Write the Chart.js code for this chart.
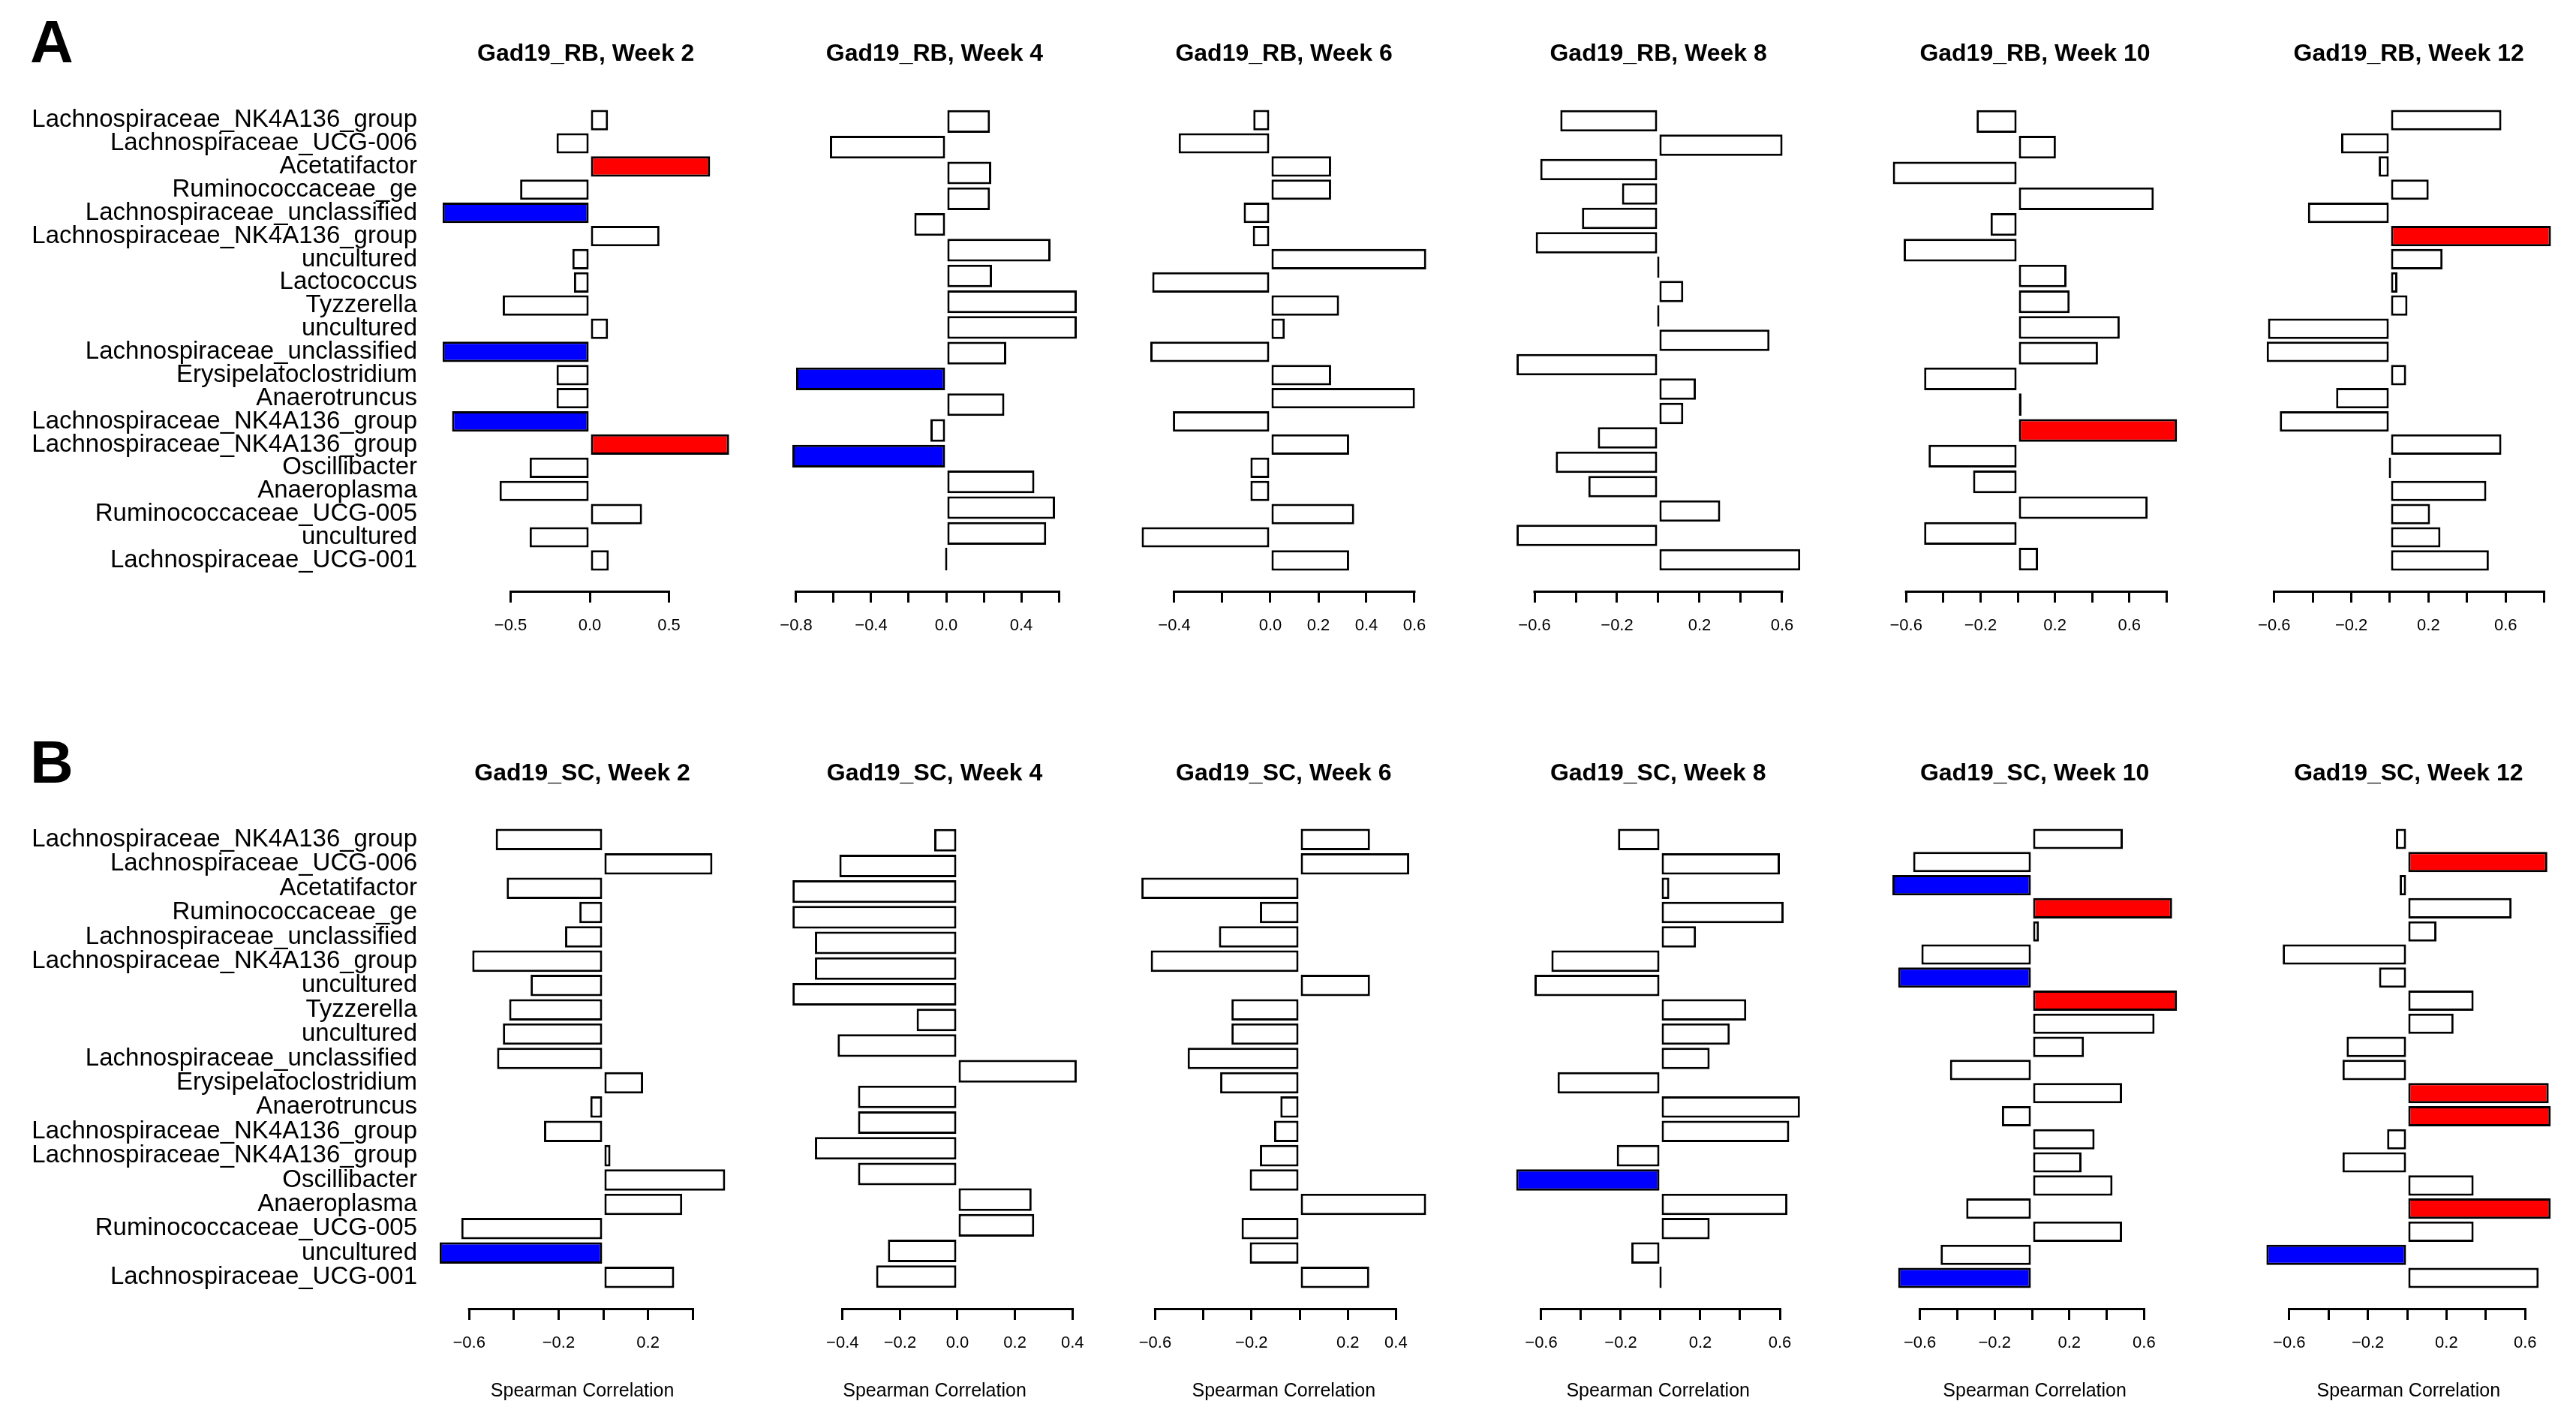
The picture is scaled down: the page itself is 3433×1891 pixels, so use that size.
<!DOCTYPE html>
<html>
<head>
<meta charset="utf-8">
<script src="https://cdn.jsdelivr.net/npm/chart.js@4.4.0/dist/chart.umd.min.js"></script>
<style>
body { margin: 0; background: #fff; width: 3433px; height: 1891px; position: relative; overflow: hidden; font-family: "Liberation Sans", Arial, sans-serif; }
canvas { position: absolute; }
.tag { position: absolute; left: 40px; font-weight: bold; font-size: 80px; line-height: 80px; color: #000; }
</style>
</head>
<body>
<div class="tag" style="top:16px">A</div>
<div class="tag" style="top:976px">B</div>
<script>
// taxa shown on the left of each row
const labelsA = ["Lachnospiraceae_NK4A136_group", "Lachnospiraceae_UCG-006", "Acetatifactor", "Ruminococcaceae_ge",
  "Lachnospiraceae_unclassified", "Lachnospiraceae_NK4A136_group", "uncultured", "Lactococcus", "Tyzzerella", "uncultured",
  "Lachnospiraceae_unclassified", "Erysipelatoclostridium", "Anaerotruncus", "Lachnospiraceae_NK4A136_group",
  "Lachnospiraceae_NK4A136_group", "Oscillibacter", "Anaeroplasma", "Ruminococcaceae_UCG-005", "uncultured", "Lachnospiraceae_UCG-001"];
const labelsB = ["Lachnospiraceae_NK4A136_group", "Lachnospiraceae_UCG-006", "Acetatifactor", "Ruminococcaceae_ge",
  "Lachnospiraceae_unclassified", "Lachnospiraceae_NK4A136_group", "uncultured", "Tyzzerella", "uncultured",
  "Lachnospiraceae_unclassified", "Erysipelatoclostridium", "Anaerotruncus", "Lachnospiraceae_NK4A136_group",
  "Lachnospiraceae_NK4A136_group", "Oscillibacter", "Anaeroplasma", "Ruminococcaceae_UCG-005", "uncultured", "Lachnospiraceae_UCG-001"];

// Spearman correlations, top to bottom
const rbWeek2 = [0.115, -0.21, 0.76, -0.44, -0.93, 0.44, -0.11, -0.10, -0.55, 0.115, -0.93, -0.21, -0.21, -0.87, 0.88, -0.38, -0.57, 0.33, -0.38, 0.12];
const rbWeek4 = [0.233, -0.62, 0.24, 0.233, -0.17, 0.556, 0.244, 0.696, 0.696, 0.32, -0.80, 0.31, -0.084, -0.82, 0.47, 0.58, 0.533, 0];
const rbWeek6 = [-0.071, -0.382, 0.253, 0.253, -0.111, -0.073, 0.649, -0.492, 0.286, 0.06, -0.50, 0.253, 0.602, -0.406, 0.328, -0.083, -0.083, 0.349, -0.536, 0.328];
const rbWeek8 = [-0.475, 0.602, -0.572, -0.176, -0.37, -0.594, 0, 0.121, 0, 0.539, -0.687, 0.182, 0.121, -0.293, -0.497, -0.339, 0.30, -0.687, 0.688];
const rbWeek10 = [-0.221, 0.205, -0.671, 0.731, -0.146, -0.613, 0.262, 0.279, 0.548, 0.431, -0.503, 0.02, 0.856, -0.479, -0.24, 0.698, -0.503, 0.109];
const rbWeek12 = [0.578, -0.253, -0.058, 0.201, -0.425, 0.835, 0.273, 0.039, 0.091, -0.632, -0.639, 0.084, -0.279, -0.571, 0.578, 0, 0.50, 0.208, 0.262, 0.513];
const scWeek2 = [-0.481, 0.488, -0.432, -0.107, -0.171, -0.586, -0.325, -0.421, -0.449, -0.475, 0.178, -0.058, -0.265, 0.032, 0.545, 0.353, -0.635, -0.732, 0.317];
const scWeek4 = [-0.081, -0.411, -0.574, -0.574, -0.496, -0.496, -0.574, -0.142, -0.417, 0.415, -0.346, -0.346, -0.496, -0.346, 0.258, 0.267, -0.242, -0.283];
const scWeek6 = [0.292, 0.455, -0.657, -0.165, -0.335, -0.618, 0.292, -0.283, -0.283, -0.465, -0.33, -0.08, -0.106, -0.165, -0.207, 0.525, -0.241, -0.207, 0.289];
const scWeek8 = [-0.214, 0.60, 0.044, 0.619, 0.178, -0.549, -0.634, 0.431, 0.348, 0.247, -0.518, 0.701, 0.647, -0.22, -0.726, 0.638, 0.247, -0.147, 0];
const scWeek10 = [0.486, -0.636, -0.747, 0.75, 0.037, -0.592, -0.716, 0.776, 0.656, 0.278, -0.439, 0.482, -0.161, 0.335, 0.265, 0.431, -0.352, 0.482, -0.489, -0.716];
const scWeek12 = [-0.057, 0.713, -0.038, 0.531, 0.149, -0.633, -0.143, 0.338, 0.236, -0.308, -0.329, 0.72, 0.73, -0.102, -0.329, 0.338, 0.73, 0.338, -0.716, 0.669];

// significant bars (index), coloured red if positive, blue if negative
const sigRb2 = [2, 4, 10, 13, 14];
const sigRb4 = [10, 13];
const sigRb10 = [12];
const sigRb12 = [5];
const sigSc2 = [17];
const sigSc8 = [14];
const sigSc10 = [2, 3, 6, 7, 19];
const sigSc12 = [1, 11, 12, 16, 18];

// axis ticks and the labels R printed for them
const ticksHalf = [-0.5, 0, 0.5];
const textHalf = ["−0.5", "0.0", "0.5"];
const ticks8to6 = [-0.8, -0.6, -0.4, -0.2, 0, 0.2, 0.4, 0.6];
const text8to6 = ["−0.8", "", "−0.4", "", "0.0", "", "0.4", ""];
const ticks4to6 = [-0.4, -0.2, 0, 0.2, 0.4, 0.6];
const text4to6 = ["−0.4", "", "0.0", "0.2", "0.4", "0.6"];
const ticks6to6 = [-0.6, -0.4, -0.2, 0, 0.2, 0.4, 0.6];
const text6to6 = ["−0.6", "", "−0.2", "", "0.2", "", "0.6"];
const ticks6to8 = [-0.6, -0.4, -0.2, 0, 0.2, 0.4, 0.6, 0.8];
const text6to8 = ["−0.6", "", "−0.2", "", "0.2", "", "0.6", ""];
const ticks6to4 = [-0.6, -0.4, -0.2, 0, 0.2, 0.4];
const text6to4 = ["−0.6", "", "−0.2", "", "0.2", ""];
const text6to4b = ["−0.6", "", "−0.2", "", "0.2", "0.4"];
const ticks4to4 = [-0.4, -0.2, 0, 0.2, 0.4];
const text4to4 = ["−0.4", "−0.2", "0.0", "0.2", "0.4"];

const FONT = '"Liberation Sans", Arial, Helvetica, sans-serif';
Chart.defaults.font.family = FONT;
Chart.defaults.color = '#000';

const rows = [
  { titleY: 72, top: 120, bottom: 787, xlab: false },
  { titleY: 1031, top: 1078, bottom: 1743, xlab: true }
];
const LABEL_RIGHT = 556;

const panels = [
  { title: 'Gad19_RB, Week 2', values: rbWeek2, sig: sigRb2, ticks: ticksHalf, text: textHalf, zero: 786, ppu: 211, row: 0, labels: labelsA },
  { title: 'Gad19_RB, Week 4', values: rbWeek4, sig: sigRb4, ticks: ticks8to6, text: text8to6, zero: 1261, ppu: 250, row: 0 },
  { title: 'Gad19_RB, Week 6', values: rbWeek6, sig: [], ticks: ticks4to6, text: text4to6, zero: 1693, ppu: 320, row: 0 },
  { title: 'Gad19_RB, Week 8', values: rbWeek8, sig: [], ticks: ticks6to6, text: text6to6, zero: 2210, ppu: 275, row: 0 },
  { title: 'Gad19_RB, Week 10', values: rbWeek10, sig: sigRb10, ticks: ticks6to8, text: text6to8, zero: 2689, ppu: 248, row: 0 },
  { title: 'Gad19_RB, Week 12', values: rbWeek12, sig: sigRb12, ticks: ticks6to8, text: text6to8, zero: 3185, ppu: 257, row: 0 },
  { title: 'Gad19_SC, Week 2', values: scWeek2, sig: sigSc2, ticks: ticks6to4, text: text6to4, zero: 804, ppu: 298, row: 1, labels: labelsB },
  { title: 'Gad19_SC, Week 4', values: scWeek4, sig: [], ticks: ticks4to4, text: text4to4, zero: 1276, ppu: 383, row: 1 },
  { title: 'Gad19_SC, Week 6', values: scWeek6, sig: [], ticks: ticks6to4, text: text6to4b, zero: 1732, ppu: 321, row: 1 },
  { title: 'Gad19_SC, Week 8', values: scWeek8, sig: sigSc8, ticks: ticks6to6, text: text6to6, zero: 2213, ppu: 265, row: 1 },
  { title: 'Gad19_SC, Week 10', values: scWeek10, sig: sigSc10, ticks: ticks6to6, text: text6to6, zero: 2708, ppu: 249, row: 1 },
  { title: 'Gad19_SC, Week 12', values: scWeek12, sig: sigSc12, ticks: ticks6to6, text: text6to6, zero: 3208, ppu: 262, row: 1 }
];

// R style axis: the line only runs from the first to the last tick
const rAxis = {
  id: 'rAxis',
  afterDraw(chart) {
    const s = chart.scales.x;
    const t = s.ticks;
    const ctx = chart.ctx;
    ctx.save();
    ctx.strokeStyle = '#000';
    ctx.lineWidth = 3;
    ctx.beginPath();
    ctx.moveTo(s.getPixelForValue(t[0].value) - 1.5, s.top + 1.5);
    ctx.lineTo(s.getPixelForValue(t[t.length - 1].value) + 1.5, s.top + 1.5);
    ctx.stroke();
    ctx.restore();
  }
};

function buildPanel(p) {
  const row = rows[p.row];
  const n = p.values.length;
  const lo = Math.min(0, ...p.values), hi = Math.max(0, ...p.values);
  const xmin = lo - 0.04 * (hi - lo), xmax = hi + 0.04 * (hi - lo);
  const chartL = p.zero + xmin * p.ppu, chartR = p.zero + xmax * p.ppu;
  const first = !!p.labels;
  const left = first ? 0 : Math.floor(chartL - 40);
  const top = row.titleY - 16;
  const axisH = row.xlab ? 126 : 70;
  const width = Math.ceil(chartR + 40 - left);
  const height = Math.ceil(row.bottom + axisH - top + 6);

  const cv = document.createElement('canvas');
  cv.width = width; cv.height = height;
  cv.style.left = left + 'px'; cv.style.top = top + 'px';
  cv.style.width = width + 'px'; cv.style.height = height + 'px';
  document.body.appendChild(cv);

  const idx = p.values.map((v, i) => i);
  new Chart(cv, {
    type: 'bar',
    data: {
      datasets: [{
        data: p.values.map((v, i) => ({ x: v, y: i })),
        backgroundColor: p.values.map((v, i) => p.sig.includes(i) ? (v > 0 ? '#ff0000' : '#0000ff') : '#ffffff'),
        borderColor: '#000',
        borderWidth: 3,
        borderSkipped: false,
        barPercentage: 0.88,
        categoryPercentage: 1,
        minBarLength: 3
      }]
    },
    options: {
      indexAxis: 'y',
      responsive: false,
      animation: false,
      events: [],
      devicePixelRatio: 1,
      layout: {
        padding: {
          left: first ? 0 : chartL - left,
          right: left + width - chartR,
          top: 0,
          bottom: height - axisH - (row.bottom - top)
        }
      },
      plugins: {
        legend: { display: false },
        tooltip: { enabled: false },
        title: {
          display: true,
          text: p.title,
          fullSize: false,
          color: '#000',
          font: { size: 32, weight: 'bold', lineHeight: 1 },
          padding: { top: 0, bottom: row.top - row.titleY - 16 }
        }
      },
      scales: {
        x: {
          type: 'linear',
          min: xmin,
          max: xmax,
          offset: false,
          afterBuildTicks: s => { s.ticks = p.ticks.map(v => ({ value: v })); },
          afterFit: s => { s.height = axisH; },
          border: { display: false },
          grid: { drawOnChartArea: false, drawTicks: true, tickLength: 16, color: '#000', lineWidth: 3 },
          ticks: {
            autoSkip: false, maxRotation: 0, minRotation: 0, padding: 18,
            font: { size: 22 },
            callback: (v, i) => p.text[i]
          },
          title: {
            display: row.xlab,
            text: 'Spearman Correlation',
            font: { size: 25 },
            padding: { top: 0, bottom: 0 }
          }
        },
        y: {
          type: 'linear',
          reverse: true,
          offset: false,
          display: first,
          min: -0.5 - 0.04 * n,
          max: n - 0.5 + 0.04 * n,
          afterBuildTicks: s => { s.ticks = idx.map(v => ({ value: v })); },
          afterFit: s => { if (first) s.width = chartL - left; },
          border: { display: false },
          grid: { display: false, drawTicks: false, offset: false },
          ticks: {
            autoSkip: false,
            padding: chartL - LABEL_RIGHT,
            font: { size: 33 },
            callback: (v, i) => first ? p.labels[i] : ''
          }
        }
      }
    },
    plugins: [rAxis]
  });
}

panels.forEach(buildPanel);
</script>
</body>
</html>
